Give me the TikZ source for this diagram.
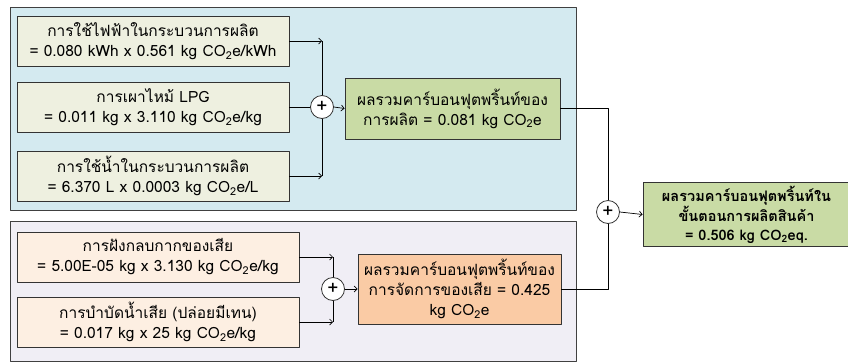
\documentclass[tikz,border=0pt]{standalone}
\usepackage{fontspec}
\setmainfont[Script=Thai]{Loma}
\usetikzlibrary{arrows.meta}
\definecolor{panelblue}{RGB}{212,234,240}
\definecolor{panelgray}{RGB}{240,238,245}
\definecolor{inputbeige}{RGB}{238,240,224}
\definecolor{inputpeach}{RGB}{253,239,226}
\definecolor{totalgreen}{RGB}{201,219,165}
\definecolor{totalorange}{RGB}{250,203,165}
\newcommand{\COe}{CO\textsubscript{2}e}
\begin{document}
\begin{tikzpicture}[x=1pt, y=-1pt, font=\fontsize{15.5}{20}\selectfont, line join=round,
  inbox/.style={draw=black!80, line width=0.8pt, align=center, inner sep=0pt},
  sumnode/.style={circle, draw=black!80, fill=white, minimum size=23pt, inner sep=0pt, line width=0.8pt, font=\fontsize{19}{19}\selectfont},
  flow/.style={-{Straight Barb[length=3pt,width=6pt]}, line width=0.7pt},
  link/.style={line width=0.7pt}]
  \useasboundingbox (0,0) rectangle (848,362);
  % two panels
  \draw[black!75, line width=0.8pt, fill=panelblue] (10,7) rectangle (576,210);
  \draw[black!75, line width=0.8pt, fill=panelgray] (10,221) rectangle (576,361);
  % production inputs
  \node[inbox, fill=inputbeige, minimum width=272, minimum height=50] (elec) at (153,41)
    {การใช้ไฟฟ้าในกระบวนการผลิต\\= 0.080 kWh x 0.561 kg \COe/kWh};
  \node[inbox, fill=inputbeige, minimum width=272, minimum height=50] (lpg) at (153,107)
    {การเผาไหม้ LPG\\= 0.011 kg x 3.110 kg \COe/kg};
  \node[inbox, fill=inputbeige, minimum width=272, minimum height=50] (water) at (153,176)
    {การใช้น้ำในกระบวนการผลิต\\= 6.370 L x 0.0003 kg \COe/L};
  \node[sumnode] (sumprod) at (322,107) {+};
  \node[inbox, fill=totalgreen, minimum width=215, minimum height=61] (prod) at (452.5,108.5)
    {ผลรวมคาร์บอนฟุตพริ้นท์ของ\\การผลิต = 0.081 kg \COe};
  % waste inputs
  \node[inbox, fill=inputpeach, minimum width=282, minimum height=50] (landfill) at (158,257)
    {การฝังกลบกากของเสีย\\= 5.00E-05 kg x 3.130 kg \COe/kg};
  \node[inbox, fill=inputpeach, minimum width=282, minimum height=50] (wastewater) at (158,322)
    {การบำบัดน้ำเสีย (ปล่อยมีเทน)\\= 0.017 kg x 25 kg \COe/kg};
  \node[sumnode] (sumwaste) at (333,289) {+};
  \node[inbox, fill=totalorange, minimum width=203, minimum height=70] (waste) at (459.5,289)
    {ผลรวมคาร์บอนฟุตพริ้นท์ของ\\การจัดการของเสีย = 0.425\\kg \COe};
  % grand total
  \node[sumnode] (sumall) at (608,212) {+};
  \node[inbox, fill=totalgreen, minimum width=207, minimum height=64, font=\fontsize{14.5}{19}\selectfont\bfseries] (total) at (746.5,214.5)
    {ผลรวมคาร์บอนฟุตพริ้นท์ใน\\ขั้นตอนการผลิตสินค้า\\= 0.506 kg CO\textsubscript{2}eq.};
  % connectors
  \draw[flow] (elec.east) -- (elec.east -| sumprod);
  \draw[link] (elec.east -| sumprod) -- (sumprod.north);
  \draw[flow] (water.east) -- (water.east -| sumprod);
  \draw[link] (water.east -| sumprod) -- (sumprod.south);
  \draw[link] (lpg.east) -- (sumprod.west);
  \draw[flow] (sumprod.east) -- (prod.west);
  \draw[flow] (landfill.east) -- (landfill.east -| sumwaste);
  \draw[link] (landfill.east -| sumwaste) -- (sumwaste.north);
  \draw[flow] (wastewater.east) -- (wastewater.east -| sumwaste);
  \draw[link] (wastewater.east -| sumwaste) -- (sumwaste.south);
  \draw[flow] (sumwaste.east) -- (waste.west);
  \draw[link] (prod.east) -| (sumall.north);
  \draw[link] (waste.east) -| (sumall.south);
  \draw[flow] (sumall.east) -- (total.west);
\end{tikzpicture}
\end{document}
